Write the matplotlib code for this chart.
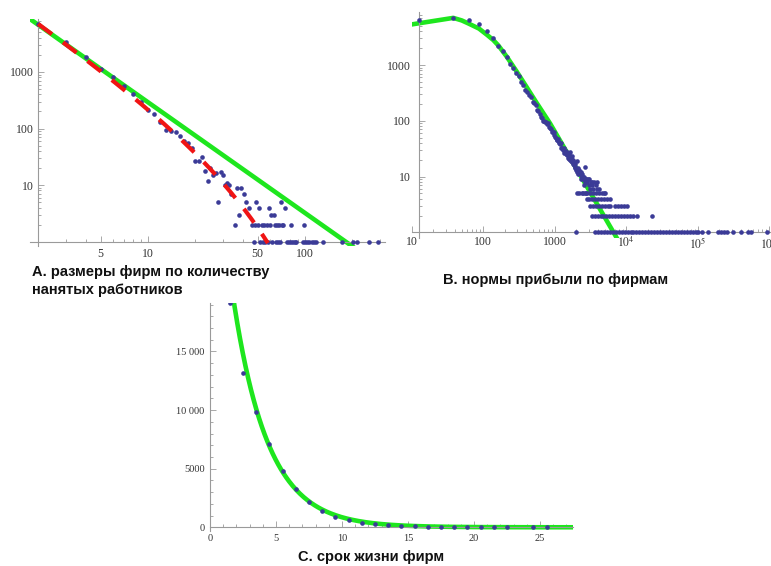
import numpy as np
import matplotlib
matplotlib.use("Agg")
import matplotlib.pyplot as plt
from matplotlib.ticker import NullFormatter

plt.rcParams["font.family"] = ["Liberation Serif", "DejaVu Serif"]
plt.rcParams["mathtext.fontset"] = "stix"

# ---------------- A: firm sizes (number of employees) ----------------
size_x = [2, 3, 4, 5, 6, 7, 8, 9, 10, 11, 12, 13, 14, 15, 16, 17, 18, 19, 20,
          21, 22, 23, 24, 25, 26, 27, 28, 29, 30, 31, 32, 33, 34, 36, 37, 38,
          39, 41, 42, 44, 46, 47, 48, 49, 50, 51, 52, 53, 54, 55, 56, 57, 58,
          59, 60, 61, 62, 63, 64, 65, 66, 67, 68, 69, 70, 71, 72, 75, 77, 79,
          81, 82, 84, 86, 88, 97, 98, 100, 103, 106, 110, 114, 118, 130, 172,
          201, 213, 257, 292]
size_count = [7000, 3350, 1870, 1150, 800, 560, 415, 290, 215, 182, 130, 96,
              90, 87, 73, 60, 56, 46, 27, 27, 31, 18, 12, 20, 15, 16, 5, 17,
              15, 10, 11, 10, 7, 2, 9, 3, 9, 7, 5, 4, 2, 1, 2, 5, 2, 4, 1, 2,
              1, 2, 1, 2, 1, 4, 2, 3, 1, 3, 2, 1, 2, 1, 2, 1, 5, 2, 2, 4, 1, 1,
              2, 1, 1, 1, 1, 1, 2, 1, 1, 1, 1, 1, 1, 1, 1, 1, 1, 1, 1]
# power-law fit (green) and power law with exponential cut-off (red dashes)
size_pow_c, size_pow_k = 26600.0, 1.96
size_cut_c, size_cut_k, size_cut_scale = 30100.0, 1.97, 24.4
size_cut_range = (2.0, 58.0)

# ---------------- B: profit rates (histogram, bin width 25) ----------------
profit_bin_width = 25.0
profit_counts = [
    6430, 6900, 6430, 5380, 4080, 3020, 2200, 1790, 1380, 1033,
    877, 713, 638, 492, 440, 358, 326, 295, 272, 221,
    205, 193, 157, 150, 131, 118, 111, 100, 99, 97,
    94, 86, 90, 76, 74, 70, 64, 62, 64, 55,
    52, 50, 46, 45, 47, 41, 40, 39, 40, 33,
    32, 31, 30, 33, 27, 28, 29, 25, 26, 24,
    27, 22, 25, 21, 28, 20, 22, 19, 23, 18,
    20, 17, 20, 16, 18, 15, 17, 14, 1, 13,
    19, 12, 5, 13, 11, 14, 12, 13, 5, 12,
    11, 9, 12, 11, 10, 5, 10, 11, 9, 10,
    5, 9, 7, 10, 5, 8, 15, 9, 5, 9, 8]
profit_upper_x = [2812.5, 2887.5, 2962.5, 3012.5, 3087.5, 3187.5, 3262.5,
                  3362.5, 3462.5, 3537.5, 3737.5, 3887.5, 3937.5, 4212.5]
profit_upper_y = [8, 9, 7, 9, 6, 8, 7, 8, 6, 8, 7, 6, 8, 6]
profit_row5_x = [2837.5, 3137.5, 3437.5, 3762.5, 4112.5, 4512.5, 4887.5, 5037.5]
profit_row4_x = [2787.5, 3037.5, 3337.5, 3637.5, 4037.5, 4437.5, 4912.5,
                 5412.5, 5912.5]
profit_row3_x = [3112.5, 3412.5, 3787.5, 4162.5, 4562.5, 5012.5, 5512.5,
                 5962.5, 6962.5, 7637.5, 8412.5, 9262.5, 10112.5]
profit_row2_x = [3287.5, 3612.5, 3962.5, 4362.5, 4787.5, 5262.5, 5787.5,
                 6362.5, 6987.5, 7687.5, 8462.5, 9312.5, 10237.5, 11262.5,
                 12387.5, 13962.5, 23112.5]
profit_row1_x = [3687.5, 4062.5, 4462.5, 4862.5, 5337.5, 5862.5, 6462.5,
                 7112.5, 7812.5, 8587.5, 9437.5, 10387.5, 11437.5, 12587.5,
                 13837.5, 15212.5, 16737.5, 18412.5, 20262.5, 22287.5,
                 24512.5, 26962.5, 29662.5, 32637.5, 35887.5, 39487.5,
                 43437.5, 47787.5, 52562.5, 57812.5, 63587.5, 69962.5,
                 76962.5, 84662.5, 93112.5, 99987.5, 113012.5, 140012.5,
                 194012.5, 210012.5, 232512.5, 254012.5, 314012.5, 398012.5,
                 508012.5, 562512.5, 915012.5]
profit_fit_x = [10, 38, 50, 63, 87, 112, 138, 162, 212, 290, 400, 550, 857,
                1316, 2250, 4770, 7330, 9000]
profit_fit_y = [5350, 7000, 6300, 5500, 4500, 3500, 2800, 2250, 1420, 780,
                410, 215, 90, 35, 10.8, 2.06, 0.80, 0.51]

# ---------------- C: firm lifetimes ----------------
life_x = [1.5, 2.5, 3.5, 4.5, 5.5, 6.5, 7.5, 8.5, 9.5, 10.5, 11.5, 12.5,
          13.5, 14.5, 15.5, 16.5, 17.5, 18.5, 19.5, 20.5, 21.5, 22.5, 24.5,
          25.5]
life_count = [19150, 13150, 9850, 7100, 4830, 3230, 2140, 1400, 860, 620,
              340, 260, 170, 110, 85, 60, 50, 40, 30, 25, 20, 15, 10, 8]
life_fit_a, life_fit_rate = 38200.0, 0.38

# ---------------- styling ----------------
dot_col = "#3b3b97"
green = "#1ee61e"
red = "#f01414"
axis_gray = "#9a9a9a"
label_col = "#333333"

W, H = 771, 566
fig = plt.figure(figsize=(W / 100, H / 100), dpi=100)


def box(left, top, right, bottom):
    return [left / W, 1 - bottom / H, (right - left) / W, (bottom - top) / H]


def style_axes(ax, x_origin, y_origin, fs, xpad, ypad):
    for s in ("top", "right"):
        ax.spines[s].set_visible(False)
    ax.spines["left"].set_position(("data", x_origin))
    ax.spines["bottom"].set_position(("data", y_origin))
    for s in ("left", "bottom"):
        ax.spines[s].set_color(axis_gray)
        ax.spines[s].set_linewidth(0.8)
    ax.patch.set_visible(False)
    ax.tick_params(which="both", direction="in", color=axis_gray, width=0.6,
                   labelcolor=label_col, labelsize=fs)
    ax.tick_params(which="major", length=4)
    ax.tick_params(which="minor", length=2)
    ax.tick_params(axis="x", pad=xpad)
    ax.tick_params(axis="y", pad=ypad)


def set_ticks(ax, xt, xl, yt, yl, xminor, yminor):
    ax.set_xticks(xt, xl)
    ax.set_yticks(yt, yl)
    ax.set_xticks(xminor, minor=True)
    ax.set_yticks(yminor, minor=True)
    ax.xaxis.set_minor_formatter(NullFormatter())
    ax.yaxis.set_minor_formatter(NullFormatter())


# ---- panel A ----
axA = fig.add_axes(box(29.9, 18.9, 385.4, 246.1))
axA.set_xscale("log")
axA.set_yscale("log")
axA.set_xlim(1.77, 325)
axA.set_ylim(0.83, 8700)
xs = np.geomspace(1.77, 325, 300)
axA.plot(xs, size_pow_c * xs ** -size_pow_k, color=green, lw=3.3,
         solid_capstyle="butt", zorder=2)
axA.scatter(size_x, size_count, s=11, color=dot_col, linewidths=0, zorder=3)
xc = np.geomspace(*size_cut_range, 300)
axA.plot(xc, size_cut_c * xc ** -size_cut_k * np.exp(-xc / size_cut_scale),
         color=red, lw=3.0, linestyle=(0, (4.1, 3.3)), zorder=4)
style_axes(axA, 2, 1, 8.5, 4.5, 3)
set_ticks(axA, [5, 10, 50, 100], ["5", "10", "50", "100"],
          [10, 100, 1000], ["10", "100", "1000"],
          [3, 4, 6, 7, 8, 9, 20, 30, 40, 60, 70, 80, 90, 200, 300],
          [m * d for d in (1, 10, 100, 1000) for m in range(2, 10) if m * d < 8700])

# ---- panel B ----
axB = fig.add_axes(box(411.8, 11.8, 776.5, 237.8))
axB.set_xscale("log")
axB.set_yscale("log")
axB.set_xlim(10, 10 ** 6.1)
axB.set_ylim(0.8, 9000)
axB.plot(profit_fit_x, profit_fit_y, color=green, lw=3.3, zorder=2)
head_x = profit_bin_width * (np.arange(len(profit_counts)) + 0.5)
bx = np.concatenate([head_x, profit_upper_x, profit_row5_x, profit_row4_x,
                     profit_row3_x, profit_row2_x, profit_row1_x])
by = np.concatenate([profit_counts, profit_upper_y,
                     np.full(len(profit_row5_x), 5), np.full(len(profit_row4_x), 4),
                     np.full(len(profit_row3_x), 3), np.full(len(profit_row2_x), 2),
                     np.full(len(profit_row1_x), 1)])
axB.scatter(bx, by, s=11, color=dot_col, linewidths=0, zorder=3)
style_axes(axB, head_x[0], 1, 8.5, 2.5, 6)
set_ticks(axB, [10, 100, 1000, 1e4, 1e5, 1e6],
          ["10", "100", "1000", r"$10^{4}$", r"$10^{5}$", r"$10^{6}$"],
          [10, 100, 1000], ["10", "100", "1000"],
          [m * d for d in (10, 100, 1000, 1e4, 1e5) for m in range(2, 10)],
          [m * d for d in (1, 10, 100, 1000) for m in range(2, 10) if m * d < 9000])

# ---- panel C ----
axC = fig.add_axes(box(210, 303.4, 573, 530.8))
axC.set_xlim(0, 27.5)
axC.set_ylim(-300, 19100)
xl = np.linspace(0, 27.5, 400)
axC.plot(xl, life_fit_a * np.exp(-life_fit_rate * xl), color=green, lw=3.3, zorder=2)
axC.scatter(life_x, life_count, s=11, color=dot_col, linewidths=0, zorder=3)
style_axes(axC, 0, 0, 7.5, 5, 4)
set_ticks(axC, [0, 5, 10, 15, 20, 25], ["0", "5", "10", "15", "20", "25"],
          [0, 5000, 10000, 15000], ["0", "5000", "10 000", "15 000"],
          [v for v in range(1, 28) if v % 5], [v for v in range(1000, 19001, 1000) if v % 5000])

# ---- captions ----
cap = dict(family=["Liberation Sans", "DejaVu Sans"], fontweight="bold",
           fontsize=10.5, color="#111111", va="center")
fig.text(32 / W, 1 - 271.7 / H, "А. размеры фирм по количеству", ha="left", **cap)
fig.text(32 / W, 1 - 290 / H, "нанятых работников", ha="left", **cap)
fig.text(555.5 / W, 1 - 280 / H, "В. нормы прибыли по фирмам", ha="center", **cap)
fig.text(371 / W, 1 - 556.7 / H, "С. срок жизни фирм", ha="center", **cap)

fig.savefig("out.png", dpi=100)
